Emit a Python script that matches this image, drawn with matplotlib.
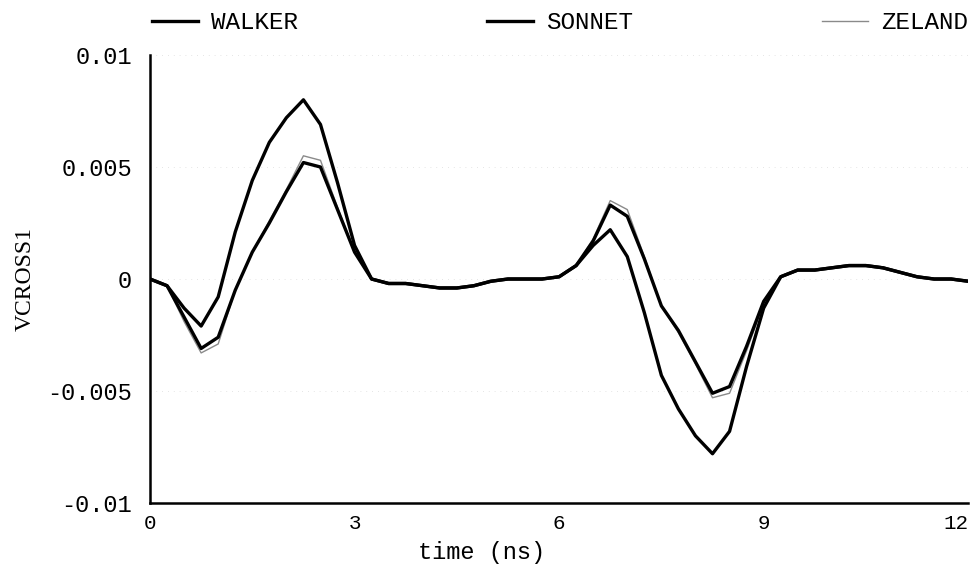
import numpy as np
import matplotlib.pyplot as plt

# sample times (ns), 0.25 ns step
t = np.arange(0, 12.001, 0.25)

walker = [0.0, -0.0003, -0.0013, -0.0021, -0.0008, 0.0021, 0.0044, 0.0061, 0.0072, 0.0080,
          0.0069, 0.0043, 0.0015, 0.0000, -0.0002, -0.0002, -0.0003, -0.0004, -0.0004, -0.0003,
          -0.0001, 0.0000, 0.0000, 0.0000, 0.0001, 0.0006, 0.0015, 0.0022, 0.0010, -0.0015,
          -0.0043, -0.0058, -0.0070, -0.0078, -0.0068, -0.0039, -0.0013, 0.0001, 0.0004, 0.0004,
          0.0005, 0.0006, 0.0006, 0.0005, 0.0003, 0.0001, 0.0000, 0.0000, -0.0001]

sonnet = [0.0, -0.0003, -0.0017, -0.0031, -0.0026, -0.0005, 0.0012, 0.0025, 0.0039, 0.0052,
          0.0050, 0.0031, 0.0012, 0.0000, -0.0002, -0.0002, -0.0003, -0.0004, -0.0004, -0.0003,
          -0.0001, 0.0000, 0.0000, 0.0000, 0.0001, 0.0006, 0.0017, 0.0033, 0.0028, 0.0009,
          -0.0012, -0.0023, -0.0037, -0.0051, -0.0048, -0.0030, -0.0010, 0.0001, 0.0004, 0.0004,
          0.0005, 0.0006, 0.0006, 0.0005, 0.0003, 0.0001, 0.0000, 0.0000, -0.0001]

zeland = [0.0, -0.0003, -0.0019, -0.0033, -0.0029, -0.0005, 0.0012, 0.0026, 0.0040, 0.0055,
          0.0053, 0.0032, 0.0012, 0.0000, -0.0002, -0.0002, -0.0003, -0.0004, -0.0004, -0.0003,
          -0.0001, 0.0000, 0.0000, 0.0000, 0.0001, 0.0006, 0.0018, 0.0035, 0.0031, 0.0010,
          -0.0012, -0.0024, -0.0038, -0.0053, -0.0051, -0.0032, -0.0011, 0.0001, 0.0004, 0.0004,
          0.0005, 0.0006, 0.0006, 0.0005, 0.0003, 0.0001, 0.0000, 0.0000, -0.0001]

xticks = [0, 3, 6, 9, 12]
yticks = [-0.01, -0.005, 0, 0.005, 0.01]
ytick_labels = ["-0.01", "-0.005", "0", "0.005", "0.01"]

mono = "Liberation Mono"

fig = plt.figure(figsize=(9.76, 5.70), dpi=100)
ax = fig.add_axes([0.1537, 0.1175, 0.8383, 0.786])

ax.plot(t, zeland, color="#8a8a8a", lw=1.0, label="ZELAND", zorder=2)
ax.plot(t, sonnet, color="black", lw=2.4, label="SONNET", zorder=3)
ax.plot(t, walker, color="black", lw=2.4, label="WALKER", zorder=4)

ax.set_xlim(0, 12)
ax.set_ylim(-0.01, 0.01)
ax.set_xticks(xticks)
ax.set_xticklabels([str(v) for v in xticks], family=mono, fontsize=15)
# keep the last label inside the figure
ax.get_xticklabels()[-1].set_horizontalalignment("right")
ax.set_yticks(yticks)
ax.set_yticklabels(ytick_labels, family=mono, fontsize=17)
ax.tick_params(axis="y", length=0, pad=13)
ax.tick_params(axis="x", length=0, pad=8)

for y in yticks[1:]:
    ax.axhline(y, color="#dcdcdc", lw=0.6, ls=(0, (1, 6)), zorder=1)

ax.spines["top"].set_visible(False)
ax.spines["right"].set_visible(False)
ax.spines["left"].set_linewidth(1.8)
ax.spines["bottom"].set_linewidth(1.8)

ax.set_xlabel("time (ns)", family=mono, fontsize=17)
ax.xaxis.set_label_coords(0.405, -0.085)
ax.set_ylabel("VCROSS1", family="Liberation Serif", fontsize=17)
ax.yaxis.set_label_coords(-0.14, 0.5)

handles, labels = ax.get_legend_handles_labels()
order = [2, 1, 0]
leg = ax.legend([handles[i] for i in order], [labels[i] for i in order],
                ncol=3, mode="expand", frameon=False,
                bbox_to_anchor=(-0.01, 1.025, 1.022, 0.1), loc="lower left",
                handlelength=1.9, handletextpad=0.55, borderaxespad=0,
                prop={"family": mono, "size": 17.5})

fig.savefig("out.png", dpi=100)
